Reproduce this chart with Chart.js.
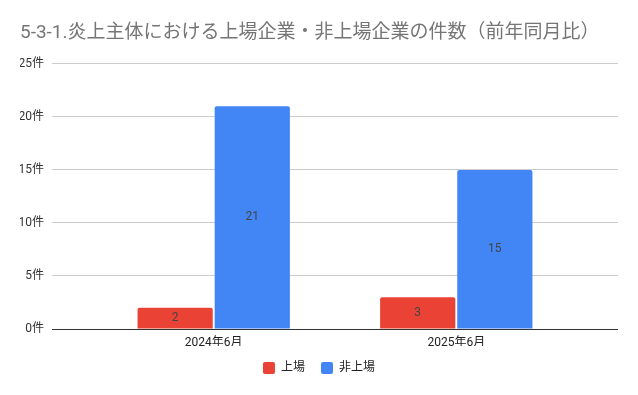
<!DOCTYPE html>
<html>
<head>
<meta charset="utf-8">
<script src="https://cdn.jsdelivr.net/npm/chart.js@4.4.1/dist/chart.umd.min.js"></script>
<style>
  html, body { margin: 0; padding: 0; background: #fff; }
  #wrap { width: 638px; height: 395px; }
</style>
</head>
<body>
<div id="wrap"><canvas id="chart"></canvas></div>
<script>
// data
const categories = ['2024年6月', '2025年6月'];
const listed = [2, 3];        // 上場
const unlisted = [21, 15];    // 非上場
const yTicks = [0, 5, 10, 15, 20, 25];

const FONT = "Roboto, 'Noto Sans CJK JP', sans-serif";

// draw the value in the middle of each bar
const centerLabels = {
    id: 'centerLabels',
    afterDatasetsDraw(chart) {
        const ctx = chart.ctx;
        ctx.save();
        ctx.font = '12px ' + FONT;
        ctx.fillStyle = '#444444';
        ctx.textAlign = 'center';
        ctx.textBaseline = 'middle';
        chart.data.datasets.forEach((ds, i) => {
            chart.getDatasetMeta(i).data.forEach((bar, j) => {
                const mid = (bar.y + bar.base) / 2;
                ctx.fillText(String(ds.data[j].y), bar.x, mid);
            });
        });
        ctx.restore();
    }
};

var ctx = document.getElementById('chart').getContext('2d');
var chart = new Chart(ctx, {
    type: 'bar',
    data: {
        datasets: [{
            label: '上場',
            data: listed.map((v, i) => ({ x: i, y: v })),
            backgroundColor: '#EA4335',
            borderRadius: 2,
            borderSkipped: 'bottom'
        }, {
            label: '非上場',
            data: unlisted.map((v, i) => ({ x: i, y: v })),
            backgroundColor: '#4285F4',
            borderRadius: 2,
            borderSkipped: 'bottom'
        }]
    },
    options: {
        responsive: true,
        maintainAspectRatio: false,
        animation: false,
        categoryPercentage: 0.636,
        barPercentage: 0.975,
        layout: { padding: { left: 20, right: 20, top: 12, bottom: 11 } },
        scales: {
            x: {
                type: 'linear',
                offset: false,
                bounds: 'data',
                min: -2 / 3,
                max: 5 / 3,
                afterBuildTicks: axis => {
                    axis.ticks = categories.map((c, i) => ({ value: i }));
                },
                afterFit: axis => { axis.height = 17; },
                grid: { display: false, offset: false, drawTicks: false },
                border: { display: false },
                ticks: {
                    callback: v => categories[v],
                    font: { family: FONT, size: 12 },
                    color: '#222222',
                    maxRotation: 0,
                    padding: 7
                }
            },
            y: {
                min: 0,
                max: 25,
                afterBuildTicks: axis => {
                    axis.ticks = yTicks.map(v => ({ value: v }));
                },
                afterFit: axis => { axis.width = 32; },
                grid: {
                    color: c => c.tick && c.tick.value === 0 ? '#333333' : '#cccccc',
                    drawTicks: false
                },
                border: { display: false },
                ticks: {
                    callback: v => v + '件',
                    font: { family: FONT, size: 12 },
                    color: '#333333',
                    padding: 8
                }
            }
        },
        plugins: {
            title: {
                display: true,
                align: 'start',
                text: '5-3-1.炎上主体における上場企業・非上場企業の件数（前年同月比）',
                color: '#757575',
                font: { family: FONT, size: 19, weight: 'normal' },
                padding: { top: 10, bottom: 19 }
            },
            legend: {
                position: 'bottom',
                labels: {
                    font: { family: FONT, size: 12 },
                    color: '#222222',
                    boxWidth: 12,
                    boxHeight: 12,
                    useBorderRadius: true,
                    borderRadius: 2,
                    padding: 16
                }
            },
            tooltip: { enabled: false }
        }
    },
    plugins: [centerLabels]
});
</script>
</body>
</html>
